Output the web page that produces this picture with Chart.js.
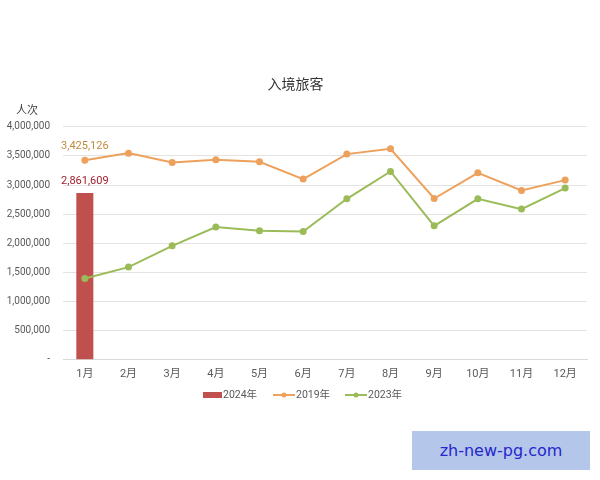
<!DOCTYPE html>
<html>
<head>
<meta charset="utf-8">
<script src="https://cdn.jsdelivr.net/npm/chart.js@4"></script>
<style>
  html, body { margin: 0; padding: 0; background: #fff; }
  #wrap { position: relative; width: 600px; height: 480px; }
  #mark {
    position: absolute; left: 412px; top: 431px; width: 178px; height: 39px;
    background: #b4c6ea; color: #2626cc; font: 16px "DejaVu Sans", sans-serif;
    line-height: 39px; text-align: center;
  }
</style>
</head>
<body>
<div id="wrap">
  <canvas id="chart" width="600" height="480"></canvas>
  <div id="mark">zh-new-pg.com</div>
</div>
<script>
const months = ['1月', '2月', '3月', '4月', '5月', '6月', '7月', '8月', '9月', '10月', '11月', '12月'];
const visitors2024 = [2861609, null, null, null, null, null, null, null, null, null, null, null];
const visitors2019 = [3425126, 3548000, 3387000, 3433000, 3399000, 3102000, 3531000, 3622000, 2769000, 3210000, 2907000, 3085000];
const visitors2023 = [1396000, 1591000, 1957000, 2278000, 2215000, 2203000, 2764000, 3233000, 2300000, 2764000, 2587000, 2948000];
const yTicks = [0, 500000, 1000000, 1500000, 2000000, 2500000, 3000000, 3500000, 4000000];

const CJK = '"Noto Sans CJK SC", "Noto Sans", sans-serif';
const NUM = 'Roboto, "Noto Sans CJK SC", sans-serif';
const RED = '#c0504d';
const ORANGE = '#eda15c';
const GREEN = '#9bbb59';

// value labels on the first point, unit label, and the legend
const extras = {
    id: 'extras',
    afterDatasetsDraw(chart) {
        const ctx = chart.ctx;
        ctx.save();
        ctx.font = '11px ' + NUM;
        ctx.textAlign = 'center';
        ctx.textBaseline = 'middle';

        const bar = chart.getDatasetMeta(0).data[0];
        ctx.fillStyle = '#a3202c';
        ctx.fillText(visitors2024[0].toLocaleString('en-US'), bar.x, bar.y - 12);

        const pt = chart.getDatasetMeta(1).data[0];
        ctx.fillStyle = '#c08a3e';
        ctx.fillText(visitors2019[0].toLocaleString('en-US'), pt.x, pt.y - 14);

        ctx.fillStyle = '#404040';
        ctx.font = '11px ' + CJK;
        ctx.fillText('人次', 27, 110);

        // legend
        const ly = 395;
        ctx.textAlign = 'left';
        ctx.font = '10.5px ' + NUM;
        ctx.fillStyle = RED;
        ctx.fillRect(203, ly - 3, 19, 6);
        ctx.fillStyle = '#595959';
        ctx.fillText('2024年', 223, ly);

        [[273, ORANGE, '2019年'], [345, GREEN, '2023年']].forEach(function (it) {
            ctx.strokeStyle = it[1];
            ctx.lineWidth = 2;
            ctx.beginPath();
            ctx.moveTo(it[0], ly);
            ctx.lineTo(it[0] + 22, ly);
            ctx.stroke();
            ctx.fillStyle = it[1];
            ctx.beginPath();
            ctx.arc(it[0] + 11, ly, 2.5, 0, Math.PI * 2);
            ctx.fill();
            ctx.fillStyle = '#595959';
            ctx.fillText(it[2], it[0] + 23, ly);
        });
        ctx.restore();
    }
};

new Chart(document.getElementById('chart'), {
    data: {
        labels: months,
        datasets: [
            {
                type: 'bar', label: '2024年', data: visitors2024,
                backgroundColor: RED, barPercentage: 0.39, categoryPercentage: 1, order: 3
            },
            {
                type: 'line', label: '2019年', data: visitors2019,
                borderColor: ORANGE, backgroundColor: ORANGE, borderWidth: 2,
                pointRadius: 2.5, pointHoverRadius: 2.5, tension: 0, order: 1
            },
            {
                type: 'line', label: '2023年', data: visitors2023,
                borderColor: GREEN, backgroundColor: GREEN, borderWidth: 2,
                pointRadius: 2.5, pointHoverRadius: 2.5, tension: 0, order: 2
            }
        ]
    },
    options: {
        responsive: false,
        animation: false,
        layout: { padding: { left: 4, right: 13, top: 0, bottom: 99 } },
        plugins: {
            legend: { display: false },
            tooltip: { enabled: false },
            title: {
                display: true, text: '入境旅客', color: '#333333',
                font: { family: CJK, size: 14, weight: 'normal' },
                padding: { top: 75, bottom: 35 }
            }
        },
        scales: {
            x: {
                grid: { display: false },
                border: { color: '#d9d9d9' },
                ticks: { color: '#595959', font: { family: NUM, size: 11 }, padding: 0 }
            },
            y: {
                min: 0, max: 4000000,
                afterBuildTicks(axis) { axis.ticks = yTicks.map(v => ({ value: v })); },
                afterFit(axis) { axis.width = 59; },
                grid: { color: '#e3e3e3', drawTicks: false },
                border: { display: false },
                ticks: {
                    color: '#595959', font: { family: NUM, size: 10 }, padding: 13,
                    callback: v => v === 0 ? '-' : v.toLocaleString('en-US')
                }
            }
        }
    },
    plugins: [extras]
});
</script>
</body>
</html>
